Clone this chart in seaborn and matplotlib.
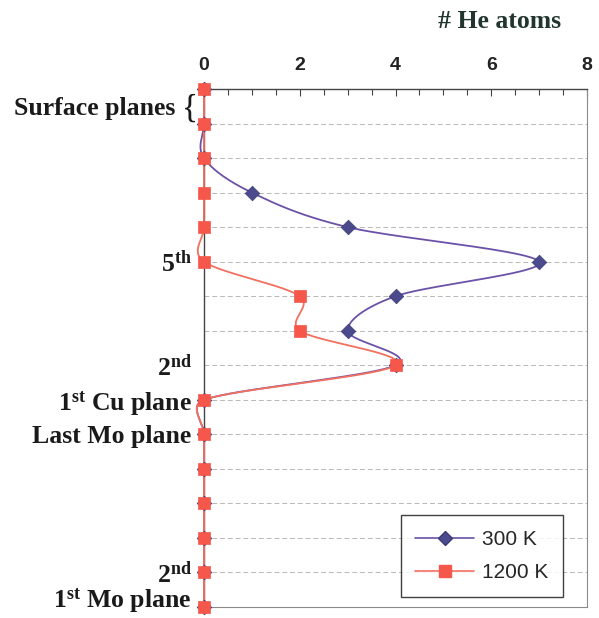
import numpy as np
import pandas as pd
import matplotlib
matplotlib.use("Agg")
import matplotlib.pyplot as plt
import matplotlib.transforms as mtransforms
from matplotlib.lines import Line2D
import seaborn as sns

# He atom counts per atomic plane (plane 0 = surface, plane 15 = 1st Mo plane)
planes = list(range(16))
he_300K = [0, 0, 0, 1, 3, 7, 4, 3, 4, 0, 0, 0, 0, 0, 0, 0]
he_1200K = [0, 0, 0, 0, 0, 0, 2, 2, 4, 0, 0, 0, 0, 0, 0, 0]
series_names = ["300 K", "1200 K"]
x_ticks = [0, 2, 4, 6, 8]
label_planes = [5, 8, 9, 10, 14, 15]
plane_labels = [r"5$^{\mathbf{th}}$", r"2$^{\mathbf{nd}}$", r"1$^{\mathbf{st}}$ Cu plane",
                "Last Mo plane", r"2$^{\mathbf{nd}}$", r"1$^{\mathbf{st}}$ Mo plane"]

sns.set_theme(style="white")
plt.rcParams["font.family"] = ["Liberation Serif", "DejaVu Serif"]
plt.rcParams["mathtext.fontset"] = "custom"
plt.rcParams["mathtext.rm"] = "Liberation Serif:bold"
plt.rcParams["mathtext.bf"] = "Liberation Serif:bold"
plt.rcParams["mathtext.it"] = "Liberation Serif:bold"

W, H = 599, 618
fig = plt.figure(figsize=(W / 100, H / 100), dpi=100)
ax = fig.add_axes([204 / W, 1 - 607 / H, 383 / W, 518 / H])

XS, YS = 383 / 8, 518 / 15  # pixels per unit along each axis


def smooth_curve(xs, ys, n=40):
    """Bezier smoothing through the points (computed in screen proportions)."""
    P = np.column_stack([np.asarray(xs, float) * XS, np.asarray(ys, float) * YS])
    out = []
    for i in range(len(P) - 1):
        p0 = P[i - 1] if i > 0 else P[i]
        p1, p2 = P[i], P[i + 1]
        p3 = P[i + 2] if i + 2 < len(P) else P[i + 1]
        seg = np.linalg.norm(p2 - p1)
        d1, d2 = (p2 - p0) / 6, (p3 - p1) / 6
        for d in (d1, d2):
            L = np.linalg.norm(d)
            if L > 0.5 * seg and L > 0:
                d *= 0.5 * seg / L
        c1, c2 = p1 + d1, p2 - d2
        t = np.linspace(0, 1, n)[:, None]
        if i < len(P) - 2:
            t = t[:-1]
        B = ((1 - t) ** 3) * p1 + 3 * ((1 - t) ** 2) * t * c1 + 3 * (1 - t) * t ** 2 * c2 + t ** 3 * p2
        out.append(B)
    B = np.vstack(out)
    return B[:, 0] / XS, B[:, 1] / YS


# horizontal dashed guide lines at each plane
for p in planes[1:-1]:
    ax.axhline(p, color="#b8b8b8", lw=0.7, ls=(0, (5, 3)), zorder=0)

line_colors = {"300 K": "#6b52a8", "1200 K": "#f2705f"}
frames = []
for name, vals in zip(series_names, [he_300K, he_1200K]):
    sx, sy = smooth_curve(vals, planes)
    frames.append(pd.DataFrame({"atoms": sx, "plane": sy, "T": name}))
curves = pd.concat(frames, ignore_index=True)

for name in series_names:
    sub = curves[curves["T"] == name]
    sns.lineplot(data=sub, x="atoms", y="plane", sort=False, estimator=None,
                 color=line_colors[name], lw=1.3, ax=ax, clip_on=False, zorder=3)

sns.scatterplot(x=he_300K, y=planes, marker="D", s=55, color="#4a4a8c",
                edgecolor="#3a3a78", linewidth=0.5, ax=ax, clip_on=False, zorder=4)
sns.scatterplot(x=he_1200K, y=planes, marker="s", s=72, color="#f5574a",
                edgecolor="#f5574a", linewidth=0.5, ax=ax, clip_on=False, zorder=5)

ax.set_xlim(0, 8)
ax.set_ylim(15, 0)
ax.xaxis.tick_top()
ax.set_xticks(x_ticks)
ax.set_xticks(np.arange(0, 8.01, 0.5), minor=True)
ax.set_xticklabels([str(v) for v in x_ticks], family="Liberation Sans",
                   fontweight="bold", fontsize=14, color="#222222")
ax.tick_params(axis="x", which="major", direction="in", length=5, width=0.8,
               color="#444444", pad=11, top=True, bottom=False)
ax.tick_params(axis="x", which="minor", direction="in", length=4, width=0.8,
               color="#444444", top=True, bottom=False)

ax.set_yticks(label_planes)
ax.set_yticklabels(plane_labels, fontsize=18.5, fontweight="bold", color="#1a1a1a")
ax.tick_params(axis="y", length=0, pad=9)
ax.set_xlabel("")
ax.set_ylabel("")
# nudge the bottom-most label up so it stays inside the figure
for lbl in ax.get_yticklabels()[-1:]:
    lbl.set_transform(lbl.get_transform() + mtransforms.ScaledTranslation(0, 7 / 72, fig.dpi_scale_trans))

fig.text(175 / W, 1 - 108 / H, "Surface planes", ha="right", va="center",
         fontsize=18.5, fontweight="bold", color="#1a1a1a")
fig.text(190 / W, 1 - 108 / H, "{", ha="center", va="center",
         fontsize=24, color="#1a1a1a")
fig.text(500 / W, 1 - 22 / H, "# He atoms", ha="center", va="center",
         fontsize=18.5, fontweight="bold", color="#20352d")

for side, c, w in [("top", "#444444", 1.0), ("left", "#444444", 1.0),
                   ("right", "#8a8a8a", 0.8), ("bottom", "#8a8a8a", 0.8)]:
    ax.spines[side].set_visible(True)
    ax.spines[side].set_color(c)
    ax.spines[side].set_linewidth(w)

handles = [
    Line2D([], [], color="#6b52a8", lw=1.2, marker="D", ms=7, mfc="#4a4a8c", mec="#3a3a78"),
    Line2D([], [], color="#f2705f", lw=1.2, marker="s", ms=8.5, mfc="#f5574a", mec="#f5574a"),
]
leg = ax.legend(handles, series_names, loc="lower right",
                bbox_to_anchor=((563 - 204) / 383, 10 / 518), borderaxespad=0,
                prop={"family": "Liberation Sans", "size": 15}, frameon=True,
                fancybox=False, edgecolor="#111111", handlelength=2.8,
                borderpad=0.7, labelspacing=0.7, handletextpad=0.4)
leg.get_frame().set_linewidth(1.0)

fig.savefig("out.png", dpi=100, facecolor="white")
